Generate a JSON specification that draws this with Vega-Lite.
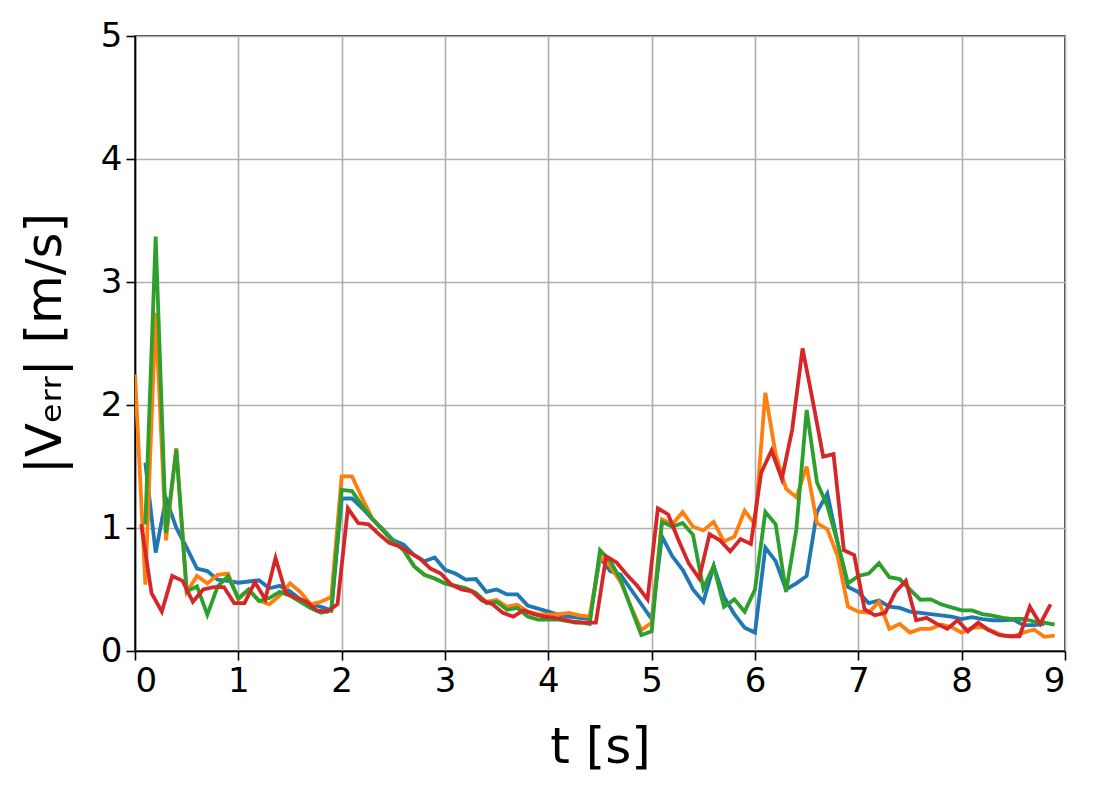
{
  "$schema": "https://vega.github.io/schema/vega-lite/v6.json",
  "width": 930,
  "height": 615,
  "autosize": {"type": "none"},
  "padding": {"left": 135, "top": 36, "right": 34, "bottom": 146},
  "background": "white",
  "config": {
    "font": "DejaVu Sans",
    "view": {"stroke": "black", "strokeWidth": 1.6},
    "axis": {
      "grid": true,
      "gridColor": "#b0b0b0",
      "gridWidth": 1.6,
      "domainColor": "black",
      "domainWidth": 1.6,
      "tickColor": "black",
      "tickWidth": 1.6,
      "tickSize": 9,
      "labelFont": "DejaVu Sans",
      "labelFontSize": 34,
      "labelColor": "black",
      "labelPadding": 4,
      "titleFont": "DejaVu Sans",
      "titleFontSize": 50,
      "titleFontWeight": "normal",
      "titleColor": "black"
    }
  },
  "data": {
    "values": [
      {"s":"b","t":0.1,"v":1.53},{"s":"b","t":0.2,"v":0.80},{"s":"b","t":0.3,"v":1.24},{"s":"b","t":0.4,"v":1.00},{"s":"b","t":0.5,"v":0.84},{"s":"b","t":0.6,"v":0.67},{"s":"b","t":0.7,"v":0.65},{"s":"b","t":0.8,"v":0.58},{"s":"b","t":0.9,"v":0.57},{"s":"b","t":1.0,"v":0.555},
      {"s":"b","t":1.1,"v":0.565},{"s":"b","t":1.2,"v":0.575},{"s":"b","t":1.3,"v":0.51},{"s":"b","t":1.4,"v":0.53},{"s":"b","t":1.5,"v":0.485},{"s":"b","t":1.6,"v":0.42},{"s":"b","t":1.7,"v":0.38},{"s":"b","t":1.8,"v":0.36},{"s":"b","t":1.9,"v":0.33},{"s":"b","t":2.0,"v":1.24},
      {"s":"b","t":2.1,"v":1.24},{"s":"b","t":2.2,"v":1.16},{"s":"b","t":2.3,"v":1.07},{"s":"b","t":2.4,"v":0.99},{"s":"b","t":2.5,"v":0.90},{"s":"b","t":2.6,"v":0.865},{"s":"b","t":2.7,"v":0.78},{"s":"b","t":2.8,"v":0.73},{"s":"b","t":2.9,"v":0.76},{"s":"b","t":3.0,"v":0.66},
      {"s":"b","t":3.1,"v":0.63},{"s":"b","t":3.2,"v":0.58},{"s":"b","t":3.3,"v":0.585},{"s":"b","t":3.4,"v":0.48},{"s":"b","t":3.5,"v":0.50},{"s":"b","t":3.6,"v":0.46},{"s":"b","t":3.7,"v":0.46},{"s":"b","t":3.8,"v":0.37},{"s":"b","t":3.9,"v":0.345},{"s":"b","t":4.0,"v":0.32},
      {"s":"b","t":4.1,"v":0.295},{"s":"b","t":4.2,"v":0.28},{"s":"b","t":4.3,"v":0.27},{"s":"b","t":4.4,"v":0.26},{"s":"b","t":4.5,"v":0.76},{"s":"b","t":4.6,"v":0.65},{"s":"b","t":4.7,"v":0.62},{"s":"b","t":4.8,"v":0.50},{"s":"b","t":4.9,"v":0.38},{"s":"b","t":5.0,"v":0.26},
      {"s":"b","t":5.1,"v":0.93},{"s":"b","t":5.2,"v":0.77},{"s":"b","t":5.3,"v":0.66},{"s":"b","t":5.4,"v":0.50},{"s":"b","t":5.5,"v":0.40},{"s":"b","t":5.6,"v":0.69},{"s":"b","t":5.7,"v":0.44},{"s":"b","t":5.8,"v":0.30},{"s":"b","t":5.9,"v":0.19},{"s":"b","t":6.0,"v":0.15},
      {"s":"b","t":6.1,"v":0.84},{"s":"b","t":6.2,"v":0.73},{"s":"b","t":6.3,"v":0.50},{"s":"b","t":6.4,"v":0.55},{"s":"b","t":6.5,"v":0.61},{"s":"b","t":6.6,"v":1.13},{"s":"b","t":6.7,"v":1.28},{"s":"b","t":6.8,"v":0.88},{"s":"b","t":6.9,"v":0.52},{"s":"b","t":7.0,"v":0.48},
      {"s":"b","t":7.1,"v":0.39},{"s":"b","t":7.2,"v":0.41},{"s":"b","t":7.3,"v":0.36},{"s":"b","t":7.4,"v":0.35},{"s":"b","t":7.5,"v":0.32},{"s":"b","t":7.6,"v":0.31},{"s":"b","t":7.7,"v":0.30},{"s":"b","t":7.8,"v":0.29},{"s":"b","t":7.9,"v":0.28},{"s":"b","t":8.0,"v":0.26},
      {"s":"b","t":8.1,"v":0.275},{"s":"b","t":8.2,"v":0.26},{"s":"b","t":8.3,"v":0.25},{"s":"b","t":8.4,"v":0.25},{"s":"b","t":8.5,"v":0.255},{"s":"b","t":8.6,"v":0.21},{"s":"b","t":8.7,"v":0.21},{"s":"b","t":8.8,"v":0.22},

      {"s":"o","t":0.0,"v":2.25},{"s":"o","t":0.1,"v":0.54},{"s":"o","t":0.2,"v":2.75},{"s":"o","t":0.3,"v":0.90},{"s":"o","t":0.4,"v":1.65},{"s":"o","t":0.5,"v":0.48},{"s":"o","t":0.6,"v":0.61},{"s":"o","t":0.7,"v":0.55},{"s":"o","t":0.8,"v":0.62},{"s":"o","t":0.9,"v":0.63},
      {"s":"o","t":1.0,"v":0.42},{"s":"o","t":1.1,"v":0.50},{"s":"o","t":1.2,"v":0.41},{"s":"o","t":1.3,"v":0.38},{"s":"o","t":1.4,"v":0.45},{"s":"o","t":1.5,"v":0.55},{"s":"o","t":1.6,"v":0.48},{"s":"o","t":1.7,"v":0.38},{"s":"o","t":1.8,"v":0.40},{"s":"o","t":1.9,"v":0.44},
      {"s":"o","t":2.0,"v":1.42},{"s":"o","t":2.1,"v":1.42},{"s":"o","t":2.2,"v":1.24},{"s":"o","t":2.3,"v":1.07},{"s":"o","t":2.4,"v":0.98},{"s":"o","t":2.5,"v":0.89},{"s":"o","t":2.6,"v":0.82},{"s":"o","t":2.7,"v":0.69},{"s":"o","t":2.8,"v":0.62},{"s":"o","t":2.9,"v":0.59},
      {"s":"o","t":3.0,"v":0.55},{"s":"o","t":3.1,"v":0.53},{"s":"o","t":3.2,"v":0.51},{"s":"o","t":3.3,"v":0.47},{"s":"o","t":3.4,"v":0.40},{"s":"o","t":3.5,"v":0.415},{"s":"o","t":3.6,"v":0.36},{"s":"o","t":3.7,"v":0.375},{"s":"o","t":3.8,"v":0.32},{"s":"o","t":3.9,"v":0.30},
      {"s":"o","t":4.0,"v":0.295},{"s":"o","t":4.1,"v":0.30},{"s":"o","t":4.2,"v":0.31},{"s":"o","t":4.3,"v":0.29},{"s":"o","t":4.4,"v":0.28},{"s":"o","t":4.5,"v":0.77},{"s":"o","t":4.6,"v":0.69},{"s":"o","t":4.7,"v":0.56},{"s":"o","t":4.8,"v":0.36},{"s":"o","t":4.9,"v":0.17},
      {"s":"o","t":5.0,"v":0.23},{"s":"o","t":5.1,"v":1.07},{"s":"o","t":5.2,"v":1.03},{"s":"o","t":5.3,"v":1.13},{"s":"o","t":5.4,"v":1.01},{"s":"o","t":5.5,"v":0.98},{"s":"o","t":5.6,"v":1.05},{"s":"o","t":5.7,"v":0.89},{"s":"o","t":5.8,"v":0.93},{"s":"o","t":5.9,"v":1.14},
      {"s":"o","t":6.0,"v":1.03},{"s":"o","t":6.1,"v":2.10},{"s":"o","t":6.2,"v":1.60},{"s":"o","t":6.3,"v":1.32},{"s":"o","t":6.4,"v":1.25},{"s":"o","t":6.5,"v":1.50},{"s":"o","t":6.6,"v":1.04},{"s":"o","t":6.7,"v":0.99},{"s":"o","t":6.8,"v":0.77},{"s":"o","t":6.9,"v":0.36},
      {"s":"o","t":7.0,"v":0.32},{"s":"o","t":7.1,"v":0.31},{"s":"o","t":7.2,"v":0.40},{"s":"o","t":7.3,"v":0.18},{"s":"o","t":7.4,"v":0.22},{"s":"o","t":7.5,"v":0.15},{"s":"o","t":7.6,"v":0.18},{"s":"o","t":7.7,"v":0.18},{"s":"o","t":7.8,"v":0.215},{"s":"o","t":7.9,"v":0.195},
      {"s":"o","t":8.0,"v":0.15},{"s":"o","t":8.1,"v":0.19},{"s":"o","t":8.2,"v":0.195},{"s":"o","t":8.3,"v":0.16},{"s":"o","t":8.4,"v":0.125},{"s":"o","t":8.5,"v":0.12},{"s":"o","t":8.6,"v":0.15},{"s":"o","t":8.7,"v":0.175},{"s":"o","t":8.8,"v":0.115},{"s":"o","t":8.9,"v":0.125},

      {"s":"g","t":0.1,"v":1.03},{"s":"g","t":0.2,"v":3.37},{"s":"g","t":0.3,"v":0.96},{"s":"g","t":0.4,"v":1.64},{"s":"g","t":0.5,"v":0.485},{"s":"g","t":0.6,"v":0.525},{"s":"g","t":0.7,"v":0.295},{"s":"g","t":0.8,"v":0.525},{"s":"g","t":0.9,"v":0.607},{"s":"g","t":1.0,"v":0.43},
      {"s":"g","t":1.1,"v":0.50},{"s":"g","t":1.2,"v":0.405},{"s":"g","t":1.3,"v":0.43},{"s":"g","t":1.4,"v":0.48},{"s":"g","t":1.5,"v":0.45},{"s":"g","t":1.6,"v":0.40},{"s":"g","t":1.7,"v":0.35},{"s":"g","t":1.8,"v":0.31},{"s":"g","t":1.9,"v":0.33},{"s":"g","t":2.0,"v":1.31},
      {"s":"g","t":2.1,"v":1.30},{"s":"g","t":2.2,"v":1.18},{"s":"g","t":2.3,"v":1.07},{"s":"g","t":2.4,"v":0.98},{"s":"g","t":2.5,"v":0.89},{"s":"g","t":2.6,"v":0.82},{"s":"g","t":2.7,"v":0.69},{"s":"g","t":2.8,"v":0.62},{"s":"g","t":2.9,"v":0.59},{"s":"g","t":3.0,"v":0.55},
      {"s":"g","t":3.1,"v":0.53},{"s":"g","t":3.2,"v":0.51},{"s":"g","t":3.3,"v":0.47},{"s":"g","t":3.4,"v":0.39},{"s":"g","t":3.5,"v":0.40},{"s":"g","t":3.6,"v":0.335},{"s":"g","t":3.7,"v":0.35},{"s":"g","t":3.8,"v":0.28},{"s":"g","t":3.9,"v":0.255},{"s":"g","t":4.0,"v":0.255},
      {"s":"g","t":4.1,"v":0.255},{"s":"g","t":4.2,"v":0.24},{"s":"g","t":4.3,"v":0.235},{"s":"g","t":4.4,"v":0.22},{"s":"g","t":4.5,"v":0.82},{"s":"g","t":4.6,"v":0.73},{"s":"g","t":4.7,"v":0.58},{"s":"g","t":4.8,"v":0.35},{"s":"g","t":4.9,"v":0.13},{"s":"g","t":5.0,"v":0.16},
      {"s":"g","t":5.1,"v":1.05},{"s":"g","t":5.2,"v":1.01},{"s":"g","t":5.3,"v":1.04},{"s":"g","t":5.4,"v":0.945},{"s":"g","t":5.5,"v":0.51},{"s":"g","t":5.6,"v":0.69},{"s":"g","t":5.7,"v":0.36},{"s":"g","t":5.8,"v":0.42},{"s":"g","t":5.9,"v":0.32},{"s":"g","t":6.0,"v":0.50},
      {"s":"g","t":6.1,"v":1.13},{"s":"g","t":6.2,"v":1.03},{"s":"g","t":6.3,"v":0.48},{"s":"g","t":6.4,"v":0.99},{"s":"g","t":6.5,"v":1.96},{"s":"g","t":6.6,"v":1.37},{"s":"g","t":6.7,"v":1.18},{"s":"g","t":6.8,"v":0.88},{"s":"g","t":6.9,"v":0.55},{"s":"g","t":7.0,"v":0.61},
      {"s":"g","t":7.1,"v":0.63},{"s":"g","t":7.2,"v":0.715},{"s":"g","t":7.3,"v":0.60},{"s":"g","t":7.4,"v":0.585},{"s":"g","t":7.5,"v":0.50},{"s":"g","t":7.6,"v":0.417},{"s":"g","t":7.7,"v":0.42},{"s":"g","t":7.8,"v":0.38},{"s":"g","t":7.9,"v":0.355},{"s":"g","t":8.0,"v":0.33},
      {"s":"g","t":8.1,"v":0.33},{"s":"g","t":8.2,"v":0.30},{"s":"g","t":8.3,"v":0.288},{"s":"g","t":8.4,"v":0.27},{"s":"g","t":8.5,"v":0.26},{"s":"g","t":8.6,"v":0.26},{"s":"g","t":8.7,"v":0.24},{"s":"g","t":8.8,"v":0.23},{"s":"g","t":8.9,"v":0.215},

      {"s":"r","t":0.06,"v":1.03},{"s":"r","t":0.16,"v":0.47},{"s":"r","t":0.26,"v":0.32},{"s":"r","t":0.36,"v":0.61},{"s":"r","t":0.46,"v":0.57},{"s":"r","t":0.56,"v":0.40},{"s":"r","t":0.66,"v":0.50},{"s":"r","t":0.76,"v":0.52},{"s":"r","t":0.86,"v":0.52},{"s":"r","t":0.96,"v":0.39},
      {"s":"r","t":1.06,"v":0.39},{"s":"r","t":1.16,"v":0.56},{"s":"r","t":1.26,"v":0.42},{"s":"r","t":1.36,"v":0.756},{"s":"r","t":1.46,"v":0.47},{"s":"r","t":1.56,"v":0.43},{"s":"r","t":1.66,"v":0.40},{"s":"r","t":1.76,"v":0.33},{"s":"r","t":1.86,"v":0.32},{"s":"r","t":1.96,"v":0.38},
      {"s":"r","t":2.06,"v":1.16},{"s":"r","t":2.16,"v":1.04},{"s":"r","t":2.26,"v":1.03},{"s":"r","t":2.36,"v":0.95},{"s":"r","t":2.46,"v":0.88},{"s":"r","t":2.56,"v":0.85},{"s":"r","t":2.66,"v":0.80},{"s":"r","t":2.76,"v":0.75},{"s":"r","t":2.86,"v":0.67},{"s":"r","t":2.96,"v":0.63},
      {"s":"r","t":3.06,"v":0.54},{"s":"r","t":3.16,"v":0.50},{"s":"r","t":3.26,"v":0.485},{"s":"r","t":3.36,"v":0.41},{"s":"r","t":3.46,"v":0.38},{"s":"r","t":3.56,"v":0.31},{"s":"r","t":3.66,"v":0.28},{"s":"r","t":3.76,"v":0.33},{"s":"r","t":3.86,"v":0.30},{"s":"r","t":3.96,"v":0.28},
      {"s":"r","t":4.06,"v":0.27},{"s":"r","t":4.16,"v":0.255},{"s":"r","t":4.26,"v":0.23},{"s":"r","t":4.36,"v":0.23},{"s":"r","t":4.46,"v":0.23},{"s":"r","t":4.56,"v":0.77},{"s":"r","t":4.66,"v":0.72},{"s":"r","t":4.76,"v":0.62},{"s":"r","t":4.86,"v":0.53},{"s":"r","t":4.96,"v":0.42},
      {"s":"r","t":5.06,"v":1.16},{"s":"r","t":5.16,"v":1.11},{"s":"r","t":5.26,"v":0.90},{"s":"r","t":5.36,"v":0.71},{"s":"r","t":5.46,"v":0.59},{"s":"r","t":5.56,"v":0.95},{"s":"r","t":5.66,"v":0.90},{"s":"r","t":5.76,"v":0.81},{"s":"r","t":5.86,"v":0.91},{"s":"r","t":5.96,"v":0.87},
      {"s":"r","t":6.06,"v":1.45},{"s":"r","t":6.16,"v":1.63},{"s":"r","t":6.26,"v":1.40},{"s":"r","t":6.36,"v":1.80},{"s":"r","t":6.46,"v":2.46},{"s":"r","t":6.56,"v":2.03},{"s":"r","t":6.66,"v":1.58},{"s":"r","t":6.76,"v":1.60},{"s":"r","t":6.86,"v":0.82},{"s":"r","t":6.96,"v":0.78},
      {"s":"r","t":7.06,"v":0.34},{"s":"r","t":7.16,"v":0.29},{"s":"r","t":7.26,"v":0.31},{"s":"r","t":7.36,"v":0.48},{"s":"r","t":7.46,"v":0.57},{"s":"r","t":7.56,"v":0.25},{"s":"r","t":7.66,"v":0.27},{"s":"r","t":7.76,"v":0.22},{"s":"r","t":7.86,"v":0.18},{"s":"r","t":7.96,"v":0.25},
      {"s":"r","t":8.06,"v":0.16},{"s":"r","t":8.16,"v":0.23},{"s":"r","t":8.26,"v":0.17},{"s":"r","t":8.36,"v":0.13},{"s":"r","t":8.46,"v":0.12},{"s":"r","t":8.56,"v":0.12},{"s":"r","t":8.66,"v":0.36},{"s":"r","t":8.76,"v":0.22},{"s":"r","t":8.86,"v":0.38}
    ]
  },
  "mark": {"type": "line", "strokeWidth": 3.8, "clip": true},
  "encoding": {
    "x": {
      "field": "t",
      "type": "quantitative",
      "scale": {"domain": [0, 9], "nice": false, "zero": false},
      "axis": {
        "values": [0, 1, 2, 3, 4, 5, 6, 7, 8, 9],
        "format": "d",
        "title": "t [s]",
        "titleX": 465,
        "titleY": 96,
        "titleBaseline": "middle",
        "titleAnchor": "middle"
      }
    },
    "y": {
      "field": "v",
      "type": "quantitative",
      "scale": {"domain": [0, 5], "nice": false},
      "axis": {
        "values": [0, 1, 2, 3, 4, 5],
        "format": "d",
        "title": "|Vₑᵣᵣ| [m/s]",
        "titleX": -90,
        "titleY": 307,
        "titleAngle": -90,
        "titleBaseline": "middle",
        "titleAnchor": "middle"
      }
    },
    "color": {
      "field": "s",
      "type": "nominal",
      "scale": {"domain": ["b", "o", "g", "r"], "range": ["#1f77b4", "#ff7f0e", "#2ca02c", "#d62728"]},
      "legend": null
    },
    "order": {"field": "t", "type": "quantitative"}
  }
}
